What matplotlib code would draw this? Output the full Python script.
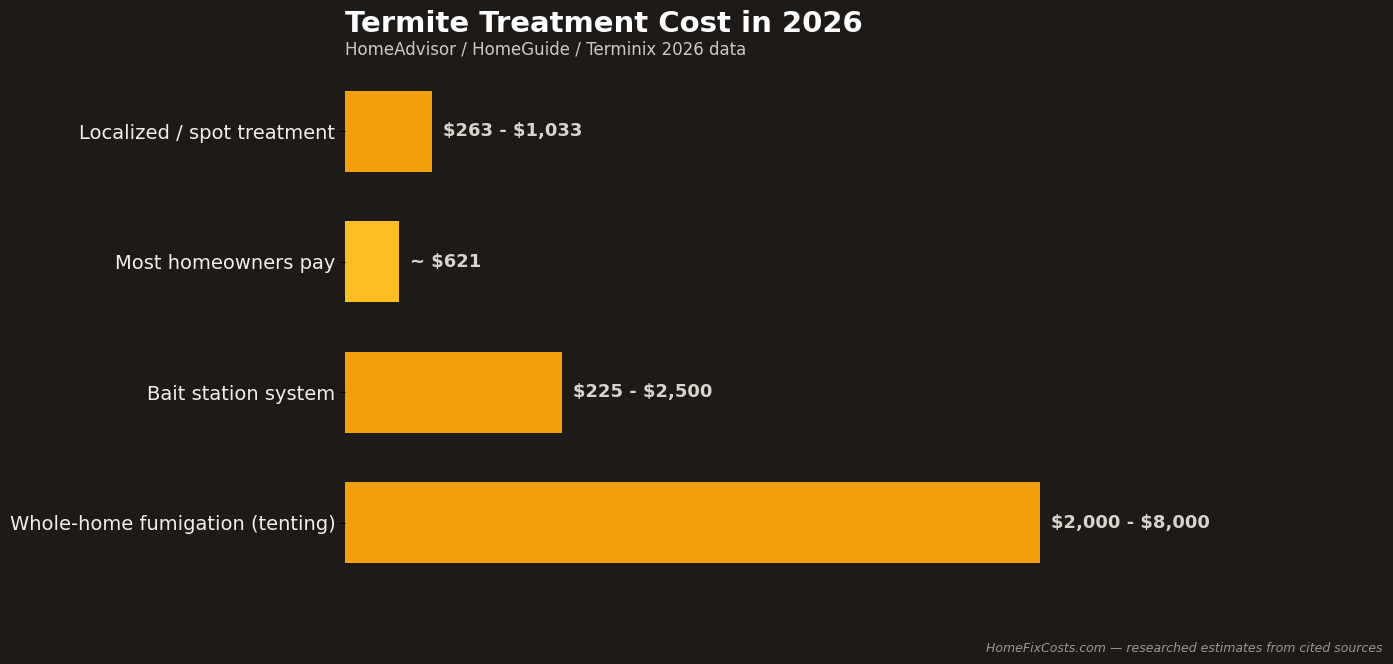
import matplotlib.pyplot as plt

# termite treatment costs (bar length)
categories = ['Localized / spot treatment', 'Most homeowners pay',
              'Bait station system', 'Whole-home fumigation (tenting)']
values = [1000, 621, 2500, 8000]
labels = [r'\$263 - \$1,033', r'~ \$621', r'\$225 - \$2,500', r'\$2,000 - \$8,000']
colors = ['#F39F0E', '#FBBF24', '#F39F0E', '#F39F0E']

bg = '#1E1A18'

fig = plt.figure(figsize=(13.93, 6.64), dpi=100, facecolor=bg)
ax = fig.add_axes([345 / 1393, 1 - 587 / 664, 1043 / 1393, 520 / 664])
ax.set_facecolor(bg)

ypos = range(len(categories))
ax.barh(ypos, values, height=0.62, color=colors)
ax.set_yticks(list(ypos))
ax.set_yticklabels(categories, fontsize=14, color='#F2EFEA')
ax.set_ylim(3.49, -0.49)
ax.set_xlim(0, 12000)
ax.tick_params(axis='y', colors='black', labelcolor='#F2EFEA')
ax.set_xticks([])
for s in ax.spines.values():
    s.set_visible(False)

for i, (v, lab) in enumerate(zip(values, labels)):
    ax.annotate(lab, (v, i), xytext=(8, 0), textcoords='offset points',
                va='center', ha='left', fontsize=13, fontweight='bold',
                color='#D9D3CC')

fig.text(345 / 1393, 1 - 32 / 664, 'Termite Treatment Cost in 2026',
         fontsize=21, fontweight='bold', color='white', va='baseline')
fig.text(345 / 1393, 1 - 55 / 664, 'HomeAdvisor / HomeGuide / Terminix 2026 data',
         fontsize=12, color='#CFC9C2', va='baseline')
fig.text(1383 / 1393, 1 - 652 / 664,
         'HomeFixCosts.com \u2014 researched estimates from cited sources',
         fontsize=9, style='italic', color='#9C9690', ha='right', va='baseline')

plt.savefig('out.png', facecolor=bg)
